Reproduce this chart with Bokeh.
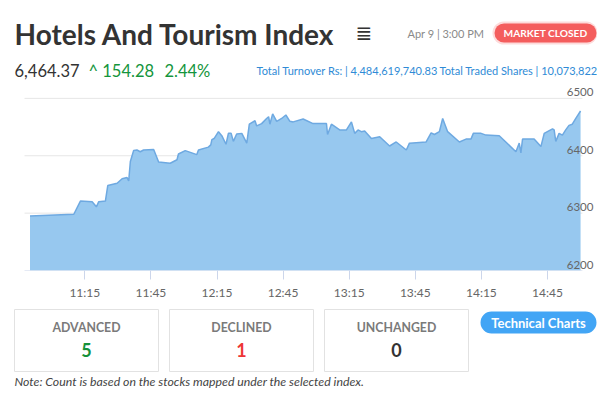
import pandas as pd
from bokeh.plotting import figure
from bokeh.layouts import column
from bokeh.models import Range1d, FixedTicker, DatetimeTickFormatter
from bokeh.core.properties import value
from bokeh.embed import file_html
from bokeh.resources import INLINE

# ---------------- data ----------------
DAY = "2025-04-09 "
times = ["10:50:07", "11:10:00", "11:13:00", "11:18:20", "11:20:15", "11:21:20", "11:24:20", "11:25:25",
         "11:29:40", "11:31:55", "11:34:10", "11:34:55", "11:35:40", "11:37:10", "11:38:40", "11:40:10",
         "11:41:40", "11:46:15", "11:48:30", "11:53:45", "11:56:50", "11:57:30", "12:00:35", "12:05:50",
         "12:06:35", "12:11:05", "12:12:10", "12:12:40", "12:13:40", "12:15:40", "12:17:10", "12:19:05",
         "12:20:10", "12:21:25", "12:22:25", "12:23:55", "12:26:15", "12:28:30", "12:29:40", "12:32:15",
         "12:33:00", "12:35:15", "12:37:30", "12:38:25", "12:39:00", "12:40:15", "12:42:05", "12:44:20",
         "12:46:15", "12:48:05", "12:49:35", "12:54:05", "12:58:35", "13:04:40", "13:05:10", "13:06:55",
         "13:10:40", "13:13:45", "13:16:00", "13:17:30", "13:19:00", "13:20:30", "13:22:00", "13:25:05",
         "13:28:50", "13:33:20", "13:36:20", "13:40:55", "13:42:20", "13:49:55", "13:52:10", "13:53:40",
         "13:55:55", "13:57:25", "13:59:40", "14:05:00", "14:08:00", "14:10:15", "14:11:20", "14:14:50",
         "14:17:05", "14:23:05", "14:30:40", "14:32:10", "14:32:55", "14:33:40", "14:38:55", "14:42:00",
         "14:43:30", "14:47:15", "14:48:00", "14:48:45", "14:50:15", "14:51:45", "14:53:15", "14:54:45",
         "14:56:15", "14:57:50", "15:00:00"]
index_values = [6295, 6298, 6321, 6320, 6311, 6320, 6321, 6348, 6352, 6360, 6362, 6356, 6390, 6409, 6410,
                6407, 6410, 6411, 6389, 6387, 6393, 6403, 6409, 6402, 6410, 6415, 6419, 6428, 6430, 6442,
                6435, 6420, 6439, 6439, 6425, 6438, 6439, 6422, 6455, 6461, 6452, 6456, 6465, 6468, 6455,
                6473, 6460, 6465, 6471, 6460, 6459, 6464, 6456, 6456, 6437, 6455, 6445, 6445, 6459, 6439,
                6445, 6442, 6443, 6430, 6433, 6417, 6424, 6410, 6422, 6424, 6440, 6437, 6442, 6465, 6442,
                6424, 6429, 6429, 6439, 6439, 6436, 6435, 6407, 6422, 6405, 6429, 6429, 6416, 6439, 6447,
                6445, 6425, 6439, 6436, 6445, 6453, 6455, 6465, 6478]
x_tick_labels = ["11:15", "11:45", "12:15", "12:45", "13:15", "13:45", "14:15", "14:45"]
y_ticks = [6200, 6300, 6400, 6500]
x_window = ["10:36:44", "15:07:41"]
grid_span = ["10:47:38", "15:00:50"]
y_window = [6200, 6520.7]

title = "Hotels And Tourism Index"
stamp = "Apr 9 | 3:00 PM"
status = "MARKET CLOSED"
last_value = "6,464.37"
change = "^ 154.28"
change_pct = "2.44%"
turnover = "Total Turnover Rs: | 4,484,619,740.83"
traded = "Total Traded Shares | 10,073,822"
count_labels = ["ADVANCED", "DECLINED", "UNCHANGED"]
counts = [5, 1, 0]
count_colors = ["#15913a", "#ee3535", "#333333"]
button_text = "Technical Charts"
note = "Note: Count is based on the stocks mapped under the selected index."

FONT = "Lato"
W = 597
H1, H2, H3 = 80, 222, 88


def blank(h, top):
    f = figure(width=W, height=h, x_range=Range1d(0, W), y_range=Range1d(top + h, top),
               output_backend="svg", toolbar_location=None, min_border=0,
               x_axis_location=None, y_axis_location=None)
    f.grid.visible = False
    f.outline_line_color = None
    return f


def txt(f, x, y, s, size, color, bold=False, italic=False, align="left", font=FONT):
    f.text(x=[x], y=[y], text=[s], text_font=value(font), text_font_size=size, text_color=color,
           text_font_style="bold" if bold else ("italic" if italic else "normal"),
           text_align=align, text_baseline="middle")


# ---------------- header ----------------
h = blank(H1, 0)
txt(h, 14, 33, title, "28px", "#333333", bold=True)
txt(h, 355, 32, "≣", "20px", "#333333", font="DejaVu Sans")
txt(h, 407, 32.5, stamp, "11px", "#8a8a8a")
h.quad(left=[492], right=[597], top=[21], bottom=[44], fill_color="#f45d5d", fill_alpha=0.22,
       line_color=None, border_radius=12)
h.quad(left=[494], right=[596], top=[23], bottom=[42], fill_color="#f45d5d",
       line_color=None, border_radius=10)
txt(h, 545, 32.5, status, "10.2px", "white", bold=True, align="center")
txt(h, 14, 70, last_value, "16.5px", "#333333")
txt(h, 88, 70, change, "16.5px", "#14953c")
txt(h, 164, 70, change_pct, "16.5px", "#14953c")
txt(h, 256, 70, turnover, "11px", "#2f8bd6")
txt(h, 597, 70, traded, "11px", "#2f8bd6", align="right")

# ---------------- chart ----------------
t = pd.to_datetime([DAY + s for s in times])
xr = pd.to_datetime([DAY + s for s in x_window])
gs = pd.to_datetime([DAY + s for s in grid_span])
p = figure(width=W, height=H2, x_axis_type="datetime",
           x_range=Range1d(xr[0], xr[1]), y_range=Range1d(y_window[0], y_window[1]),
           output_backend="svg", toolbar_location=None, y_axis_location=None,
           min_border_left=0, min_border_right=0, min_border_top=6, min_border_bottom=30)
p.grid.visible = False
p.outline_line_color = None

p.segment(x0=[gs[0]] * len(y_ticks), x1=[gs[1]] * len(y_ticks), y0=y_ticks, y1=y_ticks,
          line_color=["#ccd6eb"] + ["#e6e6e6"] * (len(y_ticks) - 1), line_width=1)

p.varea(x=t, y1=[y_ticks[0]] * len(t), y2=index_values, fill_color="#97c8ef")
p.line(x=t, y=index_values, line_color="#6ea9e1", line_width=1.5)

p.text(x=[gs[1]] * len(y_ticks), y=y_ticks, text=[str(v) for v in y_ticks], x_offset=11, y_offset=-6,
       text_align="right", text_baseline="middle", text_font=value(FONT),
       text_font_size="11.5px", text_color="#666666")

tick_ms = [pd.Timestamp(DAY + s).value // 10**6 for s in x_tick_labels]
ax = p.xaxis[0]
ax.ticker = FixedTicker(ticks=tick_ms)
fmt = "%H:%M"
ax.formatter = DatetimeTickFormatter(minutes=fmt, hourmin=fmt, hours=fmt, minsec=fmt, seconds=fmt,
                                     days=fmt, context=None)
ax.axis_line_color = None
ax.major_tick_line_color = "#ccd6eb"
ax.major_tick_out = 9
ax.major_tick_in = 0
ax.minor_tick_out = 0
ax.minor_tick_in = 0
ax.major_label_standoff = 5
ax.major_label_text_font = FONT
ax.major_label_text_font_size = "12px"
ax.major_label_text_color = "#666666"

# ---------------- bottom ----------------
top3 = H1 + H2
b = blank(H3, top3)
for i, (lab, c, col) in enumerate(zip(count_labels, counts, count_colors)):
    left = 14 + i * 155
    b.quad(left=[left], right=[left + 144], top=[309], bottom=[371], fill_color="white",
           line_color="#e2e2e2", line_width=1)
    txt(b, left + 72, 327, lab, "12.3px", "#7a7a7a", bold=True, align="center")
    txt(b, left + 72, 349, str(c), "18px", col, bold=True, align="center")
b.quad(left=[480], right=[596], top=[311], bottom=[333], fill_color="#42a5f5", line_color=None,
       border_radius=11)
txt(b, 538, 322, button_text, "13px", "white", bold=True, align="center")
txt(b, 14, 381, note, "12.3px", "#444444", italic=True)

layout = column(h, p, b, spacing=0)
open("out.html", "w").write(file_html(layout, INLINE))
